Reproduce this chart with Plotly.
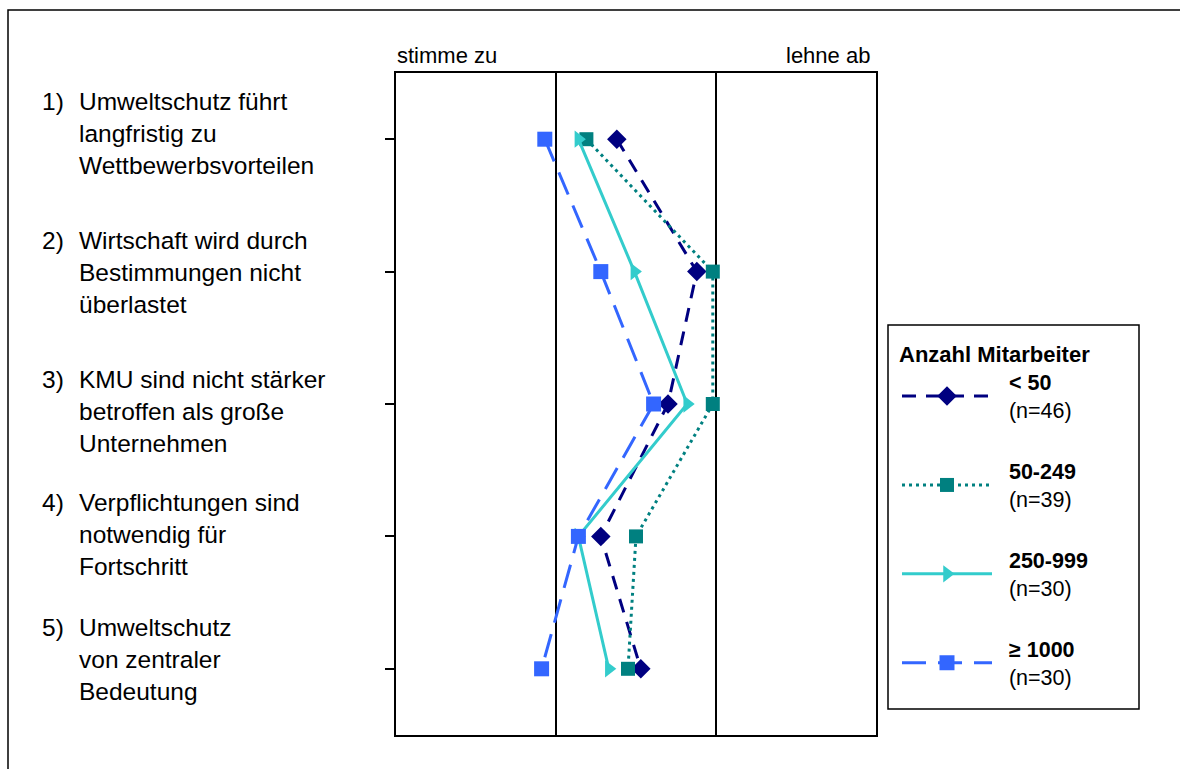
import plotly.graph_objects as go

items = [1, 2, 3, 4, 5]
item_numbers = ["1)", "2)", "3)", "4)", "5)"]
item_labels = [
    "Umweltschutz führt<br>langfristig zu<br>Wettbewerbsvorteilen",
    "Wirtschaft wird durch<br>Bestimmungen nicht<br>überlastet",
    "KMU sind nicht stärker<br>betroffen als große<br>Unternehmen",
    "Verpflichtungen sind<br>notwendig für<br>Fortschritt",
    "Umweltschutz<br>von zentraler<br>Bedeutung",
]
label_shift = [6, -1, -7, 2, 9]

groups = ["&lt; 50", "50-249", "250-999", "≥ 1000"]
group_n = ["(n=46)", "(n=39)", "(n=30)", "(n=30)"]

vals_lt50 = [2.38, 2.88, 2.70, 2.28, 2.53]
vals_50_249 = [2.19, 2.98, 2.98, 2.50, 2.45]
vals_250_999 = [2.14, 2.49, 2.82, 2.14, 2.33]
vals_ge1000 = [1.93, 2.28, 2.61, 2.14, 1.91]

series = [vals_lt50, vals_50_249, vals_250_999, vals_ge1000]
colors = ["#000080", "#008080", "#33CCCC", "#3366FF"]
dashes = ["14px,10px", "3px,4px", "solid", "24px,12px"]
symbols = ["diamond", "square", "triangle-right", "square"]
msizes = [15, 14, 15, 15]

pad = "&nbsp;&nbsp;"
fig = go.Figure()
for i in range(4):
    fig.add_trace(go.Scatter(
        x=series[i], y=items, mode="lines+markers",
        name=f"{pad}<b>{groups[i]}</b><br>{pad}{group_n[i]}",
        line=dict(color=colors[i], width=3, dash=dashes[i]),
        marker=dict(symbol=symbols[i], size=msizes[i], color=colors[i]),
        legendgroup=f"g{i}",
    ))

FS = 24.5
for i, it in enumerate(items):
    fig.add_annotation(x=(77 - 396) / 480, xref="paper", y=it, yref="y",
                       text=item_labels[i], showarrow=False, xanchor="left",
                       yanchor="middle", align="left", yshift=label_shift[i],
                       font=dict(size=FS, color="black"))
    fig.add_annotation(x=(40 - 396) / 480, xref="paper", y=it, yref="y",
                       text=item_numbers[i], showarrow=False, xanchor="left",
                       yanchor="middle", align="left",
                       yshift=label_shift[i] + FS * 1.3,
                       font=dict(size=FS, color="black"))

fig.add_annotation(x=(395 - 396) / 480, xref="paper", y=(735 - 56) / 662, yref="paper",
                   text="stimme zu", showarrow=False, xanchor="left",
                   yanchor="middle", font=dict(size=22, color="black"))
fig.add_annotation(x=(872 - 396) / 480, xref="paper", y=(735 - 56) / 662, yref="paper",
                   text="lehne ab", showarrow=False, xanchor="right",
                   yanchor="middle", font=dict(size=22, color="black"))

# outer frame (top and left edges visible)
fig.add_shape(type="rect", xref="paper", yref="paper",
              x0=(8 - 396) / 480, x1=(1200 - 396) / 480,
              y0=(735 - 800) / 662, y1=(735 - 10) / 662,
              line=dict(color="black", width=1.5), layer="below")
# legend box
fig.add_shape(type="rect", xref="paper", yref="paper",
              x0=(888 - 396) / 480, x1=(1139 - 396) / 480,
              y0=(735 - 709) / 662, y1=(735 - 325) / 662,
              line=dict(color="black", width=1.5))

fig.update_layout(
    width=1180, height=769,
    margin=dict(l=396, r=304, t=73, b=34),
    paper_bgcolor="white", plot_bgcolor="white",
    font=dict(family="Liberation Sans, Arial, sans-serif", color="black"),
    xaxis=dict(range=[1, 4], showticklabels=False, ticks="", showgrid=True,
               gridcolor="black", gridwidth=2, tickvals=[2, 3], zeroline=False,
               showline=True, linecolor="black", linewidth=2, mirror=True),
    yaxis=dict(range=[5.5, 0.5], showticklabels=False, ticks="outside",
               ticklen=9, tickwidth=1.5, tickcolor="black", tickvals=items,
               showgrid=False, zeroline=False,
               showline=True, linecolor="black", linewidth=2, mirror=True),
    legend=dict(
        x=(897 - 396) / 480, y=(735 - 333) / 662, xanchor="left", yanchor="top",
        title=dict(text="<b>Anzahl Mitarbeiter</b>", font=dict(size=22)),
        font=dict(size=21.5, color="black"), bgcolor="rgba(0,0,0,0)",
        tracegroupgap=30, itemwidth=90,
    ),
    showlegend=True,
)

fig.write_html("out.html")
